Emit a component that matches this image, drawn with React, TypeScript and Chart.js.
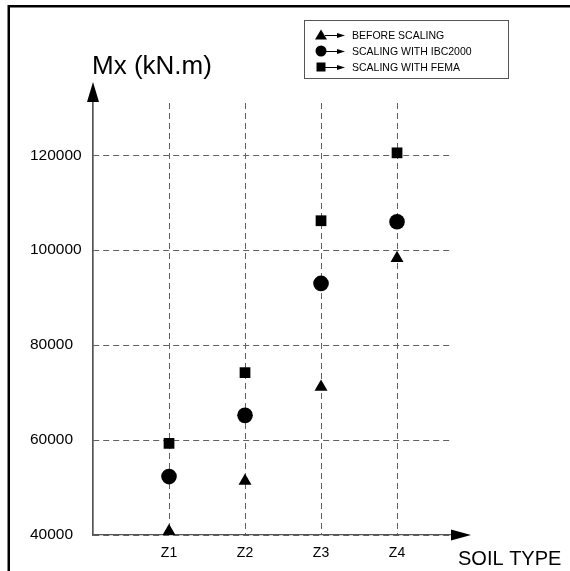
import React, { useEffect, useRef } from "react";
import { Chart, registerables } from "chart.js";

Chart.register(...registerables);

const categories = ["Z1", "Z2", "Z3", "Z4"];
const seriesNames = ["BEFORE SCALING", "SCALING WITH IBC2000", "SCALING WITH FEMA"];
const seriesStyles = ["triangle", "circle", "rect"];
const beforeScaling = [40800, 51400, 71200, 98300];
const scalingIBC2000 = [52300, 65200, 93000, 106000];
const scalingFEMA = [59300, 74200, 106200, 120500];
const yTickValues = [40000, 60000, 80000, 100000, 120000];
const yAxisTitle = "Mx (kN.m)";
const xAxisTitle = "SOIL TYPE";

const FONT = "'Liberation Sans', Arial, sans-serif";

function drawMarker(ctx: CanvasRenderingContext2D, style: string, x: number, y: number, s: number) {
  ctx.beginPath();
  if (style === "triangle") {
    ctx.moveTo(x, y - s * 0.55);
    ctx.lineTo(x + s * 0.6, y + s * 0.45);
    ctx.lineTo(x - s * 0.6, y + s * 0.45);
    ctx.closePath();
  } else if (style === "circle") {
    ctx.arc(x, y, s * 0.55, 0, Math.PI * 2);
  } else {
    ctx.rect(x - s * 0.45, y - s * 0.45, s * 0.9, s * 0.9);
  }
  ctx.fill();
}

const decor = {
  id: "decor",
  afterDraw(chart: any) {
    const ctx: CanvasRenderingContext2D = chart.ctx;
    const { left, right, top, bottom } = chart.chartArea;
    ctx.save();
    // outer frame (left and top)
    ctx.strokeStyle = "#000";
    ctx.lineWidth = 2.5;
    ctx.beginPath();
    ctx.moveTo(8.75, 571);
    ctx.lineTo(8.75, 6.25);
    ctx.lineTo(570, 6.25);
    ctx.stroke();

    // y axis extension + arrow
    ctx.strokeStyle = "#555";
    ctx.lineWidth = 1.2;
    ctx.beginPath();
    ctx.moveTo(left, bottom);
    ctx.lineTo(left, top - 2);
    ctx.stroke();
    ctx.fillStyle = "#000";
    ctx.beginPath();
    ctx.moveTo(left, top - 21);
    ctx.lineTo(left - 6, top - 1);
    ctx.lineTo(left + 6, top - 1);
    ctx.closePath();
    ctx.fill();

    // x axis arrow
    ctx.beginPath();
    ctx.moveTo(right + 20, bottom);
    ctx.lineTo(right, bottom - 5.5);
    ctx.lineTo(right, bottom + 5.5);
    ctx.closePath();
    ctx.fill();

    // axis titles
    ctx.fillStyle = "#000";
    ctx.textAlign = "left";
    ctx.textBaseline = "alphabetic";
    ctx.font = `26px ${FONT}`;
    ctx.fillText(yAxisTitle, left - 1, 74);
    ctx.font = `20px ${FONT}`;
    ctx.fillText(xAxisTitle, right + 7, 565);

    // legend box
    const bx = 304, by = 20, bw = 204, bh = 58;
    ctx.strokeStyle = "#555";
    ctx.lineWidth = 1;
    ctx.strokeRect(bx + 0.5, by + 0.5, bw, bh);
    const rows = [35, 51, 67];
    ctx.font = `10.5px ${FONT}`;
    ctx.textBaseline = "middle";
    chart.data.datasets.forEach((ds: any, i: number) => {
      const y = rows[i];
      const ix = bx + 17;
      ctx.fillStyle = "#000";
      drawMarker(ctx, ds.pointStyle, ix, y, 10);
      ctx.strokeStyle = "#000";
      ctx.lineWidth = 1;
      ctx.beginPath();
      ctx.moveTo(ix + 4, y + 0.5);
      ctx.lineTo(ix + 18, y + 0.5);
      ctx.stroke();
      ctx.beginPath();
      ctx.moveTo(ix + 24, y + 0.5);
      ctx.lineTo(ix + 16, y - 2);
      ctx.lineTo(ix + 16, y + 3);
      ctx.closePath();
      ctx.fill();
      ctx.fillText(ds.label, ix + 31, y + 1);
    });
    ctx.restore();
  },
};

export default function App() {
  const ref = useRef<HTMLCanvasElement>(null);
  useEffect(() => {
    if (!ref.current) return;
    const series = [beforeScaling, scalingIBC2000, scalingFEMA];
    const radii = [7.5, 7.8, 7.6];
    const chart = new Chart(ref.current, {
      type: "scatter",
      data: {
        datasets: series.map((vals, si) => ({
          label: seriesNames[si],
          data: vals.map((v, i) => ({ x: i + 1, y: v })),
          pointStyle: seriesStyles[si] as any,
          pointRadius: radii[si],
          pointHoverRadius: radii[si],
          backgroundColor: "#000",
          borderColor: "#000",
          borderWidth: 0,
          showLine: false,
          clip: false as any,
        })),
      },
      options: {
        responsive: false,
        animation: false,
        events: [],
        layout: { padding: { left: 30, top: 103, right: 119, bottom: 0 } },
        plugins: { legend: { display: false }, tooltip: { enabled: false } },
        scales: {
          x: {
            type: "linear",
            min: 0,
            max: 4.71,
            afterBuildTicks: (s: any) => {
              s.ticks = categories.map((_, i) => ({ value: i + 1 }));
            },
            afterFit: (s: any) => {
              s.height = 36;
            },
            ticks: {
              callback: (v: any) => categories[Math.round(v) - 1] ?? "",
              font: { family: FONT, size: 14 },
              color: "#000",
              padding: 10,
              maxRotation: 0,
              autoSkip: false,
            },
            grid: { color: "#606060", lineWidth: 1, drawTicks: false },
            border: { display: true, color: "#555", width: 1.2, dash: [6, 4] },
          },
          y: {
            type: "linear",
            min: 40000,
            max: 131000,
            afterBuildTicks: (s: any) => {
              s.ticks = yTickValues.map((v) => ({ value: v }));
            },
            afterFit: (s: any) => {
              s.width = 63;
            },
            ticks: {
              font: { family: FONT, size: 15.5 },
              color: "#000",
              crossAlign: "far",
              padding: 0,
              callback: (v: any) => String(v),
            },
            grid: { color: "#606060", lineWidth: 1, drawTicks: false },
            border: { display: true, color: "#555", width: 1.2, dash: [6, 4] },
          },
        },
      },
      plugins: [decor],
    });
    return () => chart.destroy();
  }, []);
  return (
    <div style={{ position: "absolute", left: 0, top: 0 }}>
      <canvas ref={ref} width={570} height={571} style={{ display: "block", width: 570, height: 571 }} />
    </div>
  );
}
